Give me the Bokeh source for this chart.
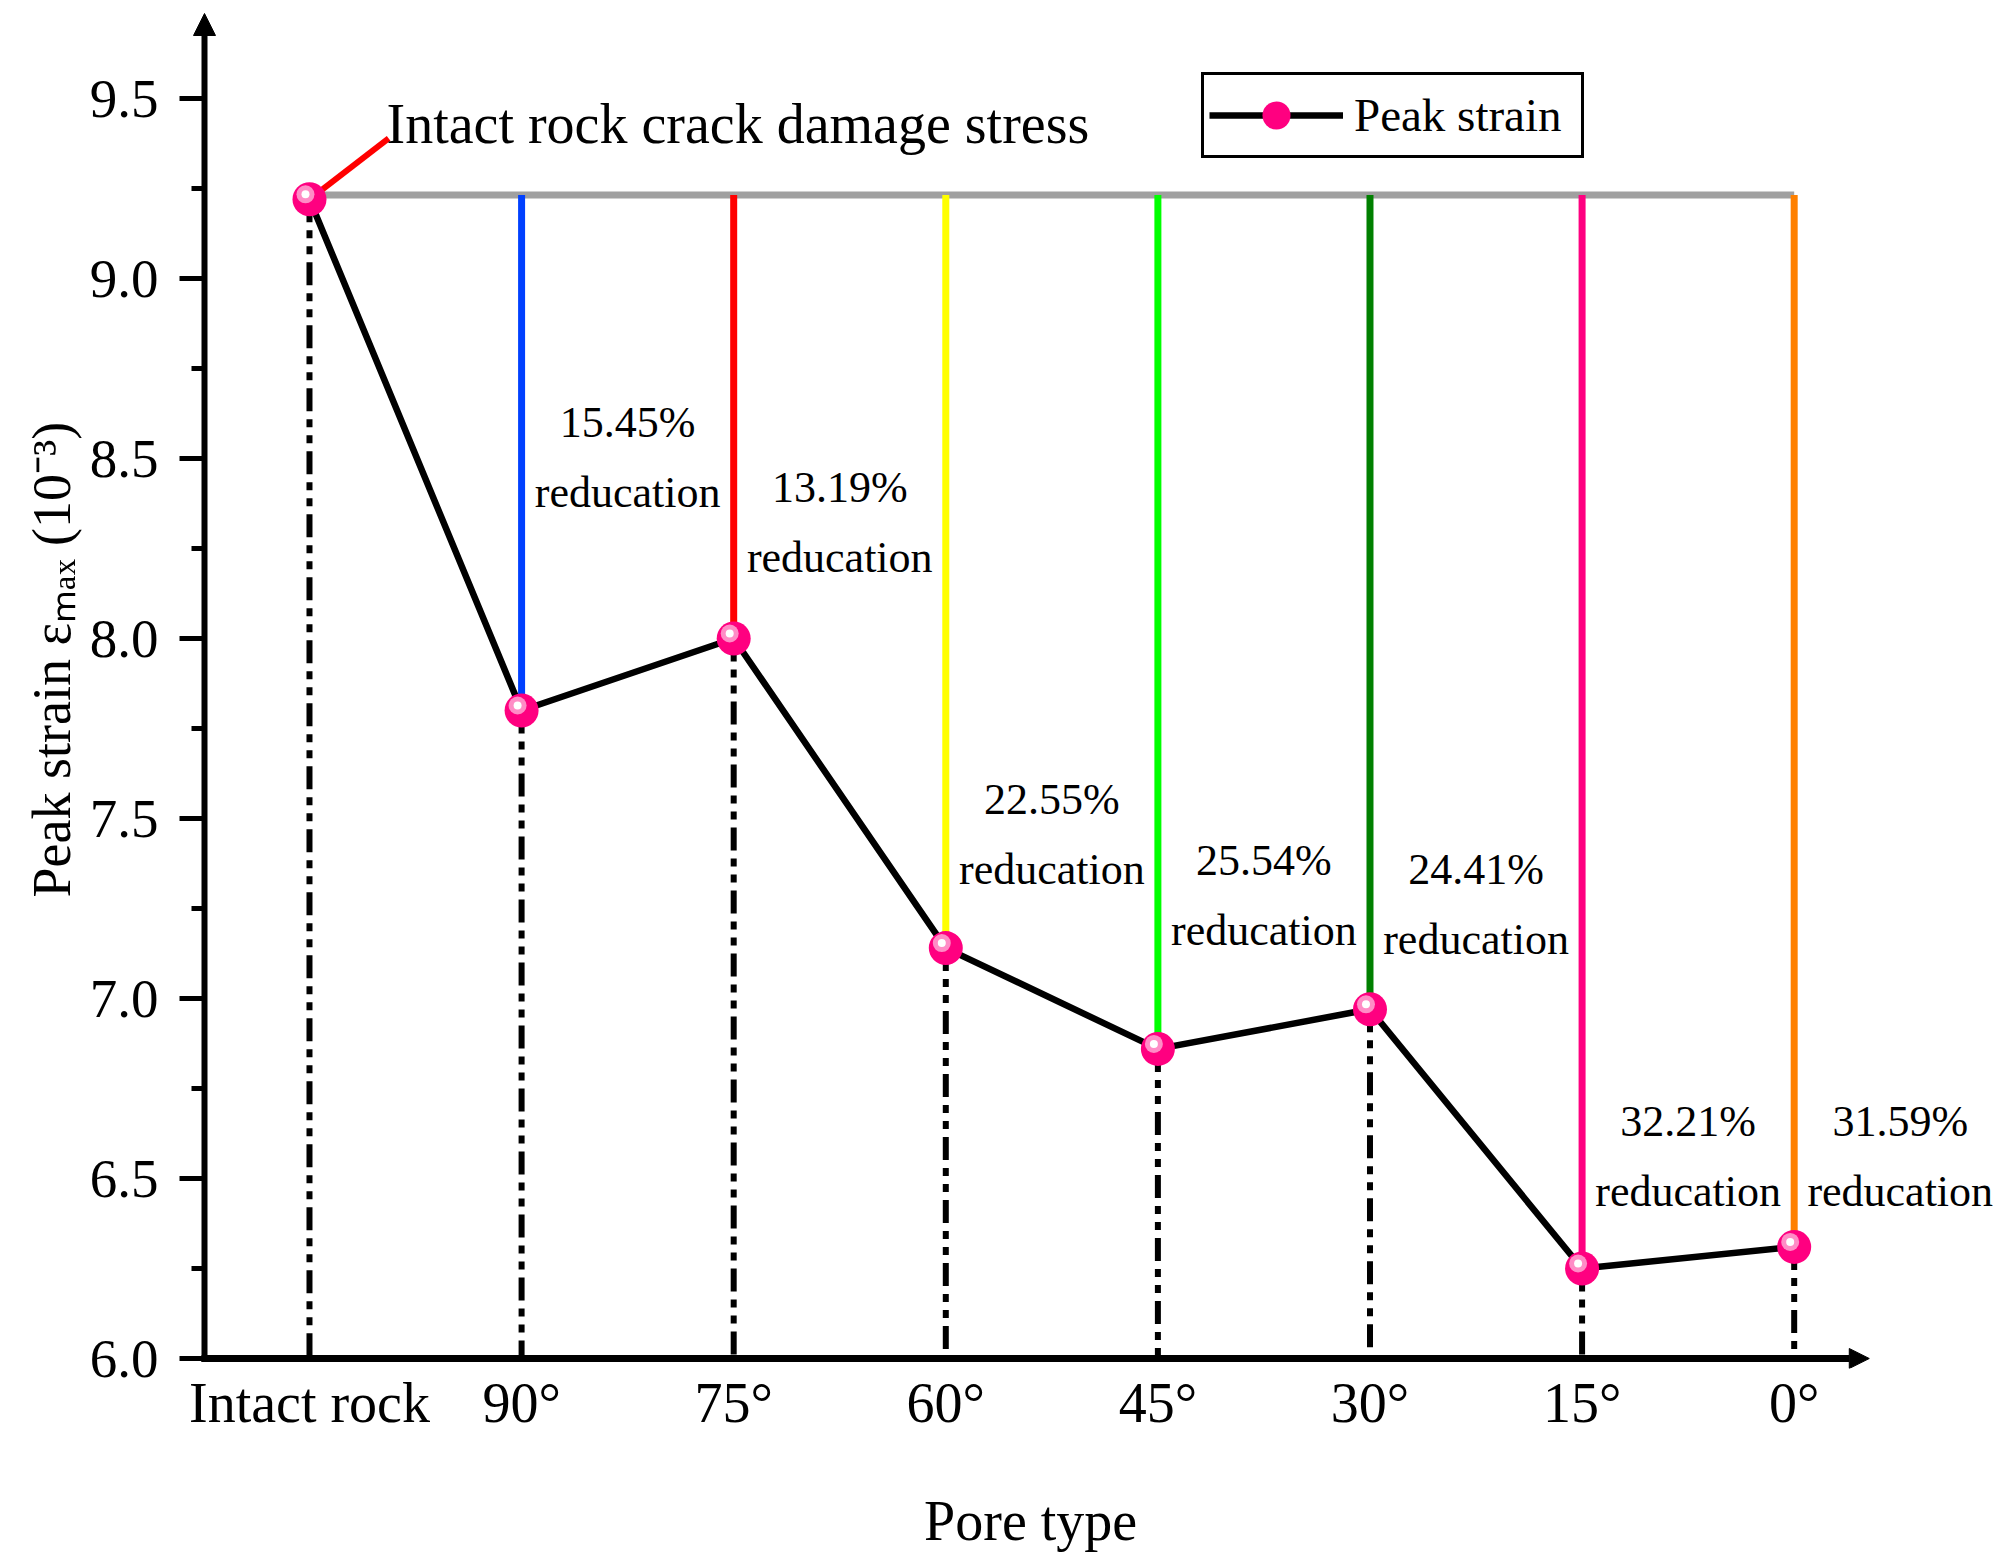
from bokeh.plotting import figure
from bokeh.models import (FixedTicker, Arrow, NormalHead, Label, Legend, LegendItem,
                          ColumnDataSource, Range1d, Title, LinearAxis)
from bokeh.core.properties import value
from bokeh.transform import dodge
from bokeh.embed import file_html
from bokeh.resources import INLINE

# ---------------- data ----------------
categories = ["Intact rock", "90°", "75°", "60°", "45°", "30°", "15°", "0°"]
peak_strain = [9.22, 7.80, 8.00, 7.14, 6.86, 6.97, 6.25, 6.31]
reduction_pct = ["15.45%", "13.19%", "22.55%", "25.54%", "24.41%", "32.21%", "31.59%"]
reduction_word = ["reducation"] * 7
intact_level = 9.232
drop_colors = ["#0040FF", "#FF0000", "#FFFF00", "#00FF00", "#008000", "#FF0080", "#FF8000"]
y_ticks = [6.0, 6.5, 7.0, 7.5, 8.0, 8.5, 9.0, 9.5]
y_tick_labels = ["6.0", "6.5", "7.0", "7.5", "8.0", "8.5", "9.0", "9.5"]
y_minor = [6.25, 6.75, 7.25, 7.75, 8.25, 8.75, 9.25]
# annotation anchors (vertical centre of first text line)
pct_label_y = [8.601, 8.420, 7.554, 7.384, 7.359, 6.657, 6.657]
note_text = "Intact rock crack damage stress"
note_x, note_y = 0.363, 9.428
leader_end = (0.373, 9.389)
x_title = "Pore type"
y_title = "Peak strain \u03b5\u2098\u2090\u2093 (10\u207b\u00b3)"

xs = list(range(len(categories)))
FONT = "Liberation Serif"

# ---------------- geometry ----------------
PX_X, PX_Y = 212.1, 360.0           # pixels per data unit
X0, Y0 = -0.495, 6.0                # where the two axes cross
AX_PX, AY_PX = 204, 1358            # pixel position of the axes
W, H = 2000, 1555
LEFT, TOP, BOTTOM = 178, 5, 187
XL = X0 - (AX_PX - LEFT) / PX_X
XR = X0 + (W - AX_PX) / PX_X
YB = Y0 - ((H - BOTTOM) - AY_PX) / PX_Y
YT = Y0 + (AY_PX - TOP) / PX_Y
Y_ARROW = Y0 + (AY_PX - 13) / PX_Y
X_ARROW = 7.354
X_TITLE_POS = 3.40

p = figure(width=W, height=H, output_backend="svg", toolbar_location=None,
           x_range=Range1d(XL, XR), y_range=Range1d(YB, YT),
           min_border_left=LEFT, min_border_right=0, min_border_top=TOP,
           min_border_bottom=BOTTOM)
p.outline_line_color = None
p.xgrid.grid_line_color = None
p.ygrid.grid_line_color = None
p.background_fill_color = "white"

# y axis: tick labels (at the frame edge)
ya = p.yaxis[0]
ya.ticker = FixedTicker(ticks=y_ticks, minor_ticks=[])
ya.major_label_overrides = {t: l for t, l in zip(y_ticks, y_tick_labels)}
ya.axis_line_color = None
ya.major_tick_line_color = None
ya.major_tick_out = 0
ya.major_tick_in = 0
ya.minor_tick_line_color = None
ya.minor_tick_out = 0
ya.minor_tick_in = 0
ya.major_label_standoff = LEFT - 158
ya.major_label_text_font = FONT
ya.major_label_text_font_size = "55px"
ya.major_label_text_color = "black"

# y axis: tick marks at the drawn axis line
ya_ticks = LinearAxis(fixed_location=X0,
                      ticker=FixedTicker(ticks=y_ticks, minor_ticks=y_minor),
                      major_label_overrides={t: "" for t in y_ticks},
                      major_label_text_font_size="0px", major_label_standoff=0,
                      axis_line_color=None,
                      major_tick_line_color="black", major_tick_line_width=5,
                      major_tick_in=-25, major_tick_out=0,
                      minor_tick_line_color="black", minor_tick_line_width=5,
                      minor_tick_in=-13, minor_tick_out=0)
p.add_layout(ya_ticks, "left")

# y title
p.add_layout(Title(text=y_title, align="left", offset=(H - BOTTOM) - 897,
                   vertical_align="bottom", standoff=10, text_font=FONT,
                   text_font_size="54px", text_font_style="normal", text_color="black"),
             "left")

# x axis: category labels
xa = p.xaxis[0]
xa.ticker = FixedTicker(ticks=xs, minor_ticks=[])
xa.major_label_overrides = {i: c for i, c in zip(xs, categories)}
xa.axis_line_color = None
xa.major_tick_line_color = None
xa.minor_tick_line_color = None
xa.major_tick_out = 0
xa.major_tick_in = 0
xa.major_label_standoff = 3
xa.major_label_text_font = FONT
xa.major_label_text_font_size = "56px"
xa.major_label_text_color = "black"

# x title, placed under the category labels
xa_title = LinearAxis(ticker=FixedTicker(ticks=[X_TITLE_POS], minor_ticks=[]),
                      major_label_overrides={X_TITLE_POS: x_title},
                      axis_line_color=None, major_tick_line_color=None,
                      minor_tick_line_color=None, major_tick_out=0, major_tick_in=0,
                      major_label_standoff=53, major_label_text_font=FONT,
                      major_label_text_font_size="56px", major_label_text_color="black")
p.add_layout(xa_title, "below")

# axis lines with arrow heads
p.add_layout(Arrow(end=NormalHead(size=20, fill_color="black", line_color="black", line_width=1),
                   x_start=X0 - 3 / PX_X, y_start=Y0, x_end=X_ARROW, y_end=Y0,
                   line_width=7, line_color="black"))
p.add_layout(Arrow(end=NormalHead(size=22, fill_color="black", line_color="black", line_width=1),
                   x_start=X0, y_start=Y0 - 3.5 / PX_Y, x_end=X0, y_end=Y_ARROW,
                   line_width=6, line_color="black"))

# ---------------- glyphs ----------------
src = ColumnDataSource(dict(x=xs, y=peak_strain, cat=categories))

p.line([xs[0], xs[-1]], [intact_level, intact_level], line_color="#A0A0A0", line_width=7)

p.segment(x0=xs[1:], y0=[intact_level] * 7, x1=xs[1:], y1=peak_strain[1:],
          line_color=drop_colors, line_width=7)

p.segment(x0=xs, y0=peak_strain, x1=xs, y1=[Y0] * len(xs),
          line_color="black", line_width=6, line_dash="23 8 8 8 8 8")

p.segment(x0=[xs[0]], y0=[peak_strain[0]], x1=[leader_end[0]], y1=[leader_end[1]],
          line_color="#FF0000", line_width=6)

line_r = p.line("x", "y", source=src, line_color="black", line_width=6.5)
mark_r = p.scatter("x", "y", source=src, size=34, fill_color="#FF0080", line_color=None)
p.scatter(dodge("x", -4 / PX_X), dodge("y", 5 / PX_Y), source=src, size=18,
          fill_color="#FF8CC6", line_color=None)
p.scatter(dodge("x", -4 / PX_X), dodge("y", 5 / PX_Y), source=src, size=8,
          fill_color="#FFFFFF", line_color=None)

lab_src = ColumnDataSource(dict(x=[x + 0.5 for x in xs[1:]], y=pct_label_y,
                                pct=reduction_pct, word=reduction_word))
p.text("x", "y", text="pct", source=lab_src, text_font=value(FONT), text_font_size="44px",
       text_align="center", text_baseline="middle", text_color="black")
p.text("x", "y", text="word", source=lab_src, text_font=value(FONT), text_font_size="44px",
       text_align="center", text_baseline="middle", text_color="black", y_offset=70)

p.add_layout(Label(x=note_x, y=note_y, text=note_text, text_font=FONT,
                   text_font_size="56px", text_baseline="middle", text_align="left",
                   text_color="black"))

legend = Legend(items=[LegendItem(label="Peak strain", renderers=[line_r, mark_r])],
                location=(1201 - LEFT, (H - BOTTOM) - 158), glyph_width=134, glyph_height=70,
                label_standoff=11, label_width=222, padding=5, spacing=0, margin=0,
                border_line_color="black", border_line_alpha=1.0, border_line_width=3,
                label_text_font="'Liberation Serif'", label_text_font_size="47px",
                label_text_color="black", background_fill_color="white",
                background_fill_alpha=1.0)
p.add_layout(legend)

open("out.html", "w").write(file_html(p, INLINE))
